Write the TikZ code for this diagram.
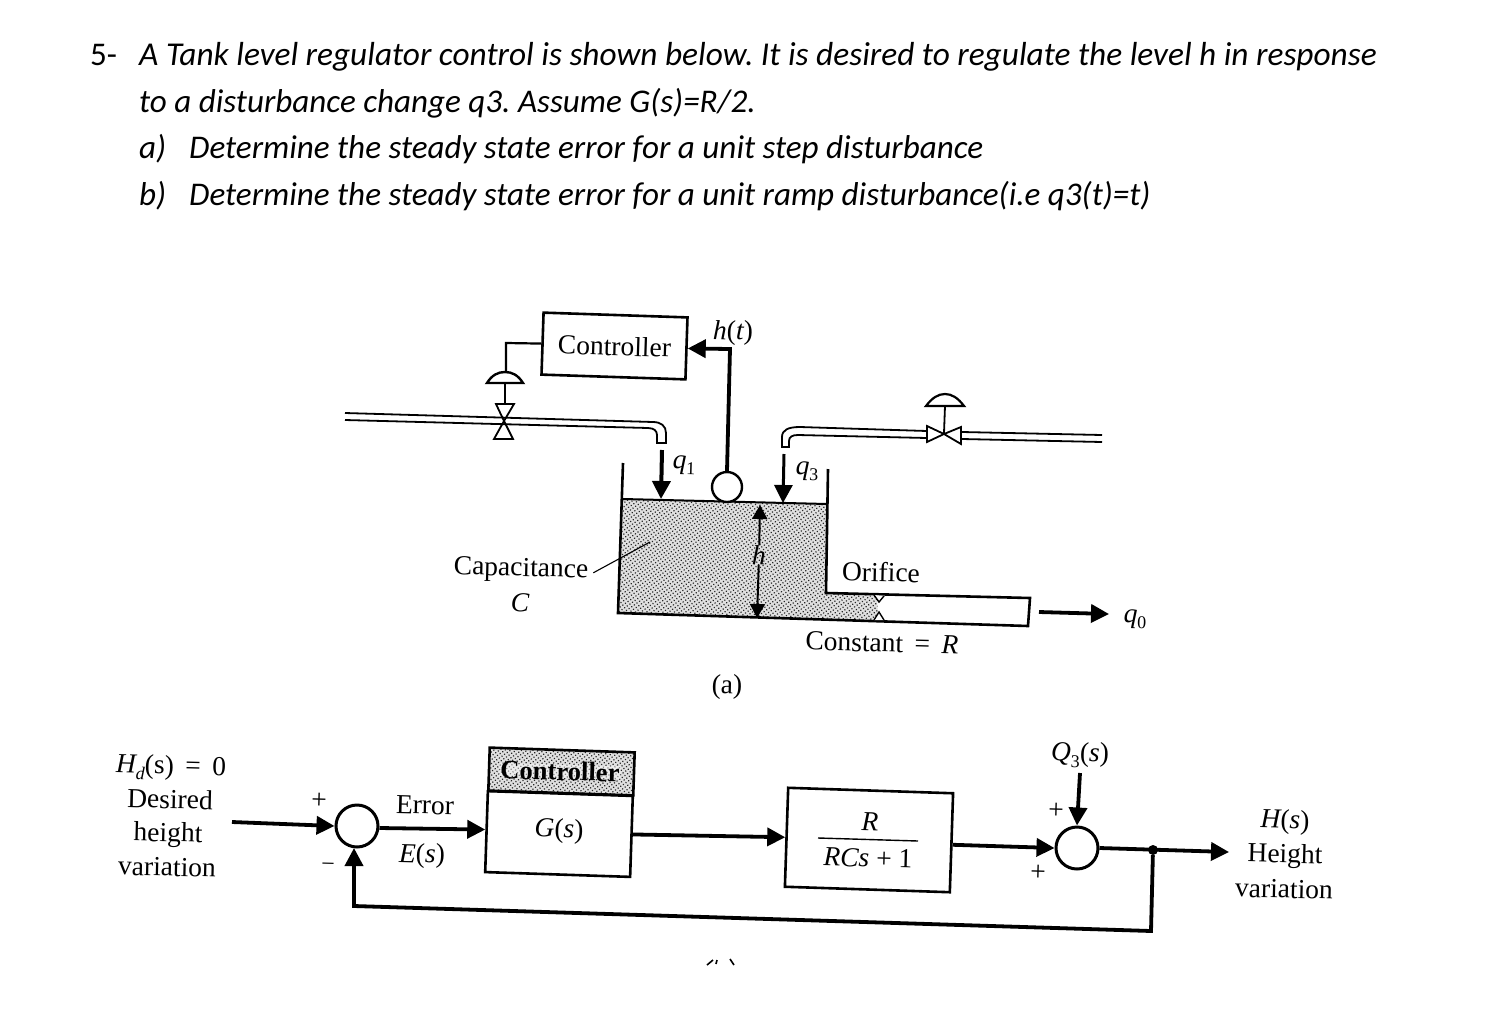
\documentclass[tikz,border=0pt]{standalone}
\usepackage{fontspec}
\setmainfont{Liberation Serif}
\newfontfamily\hdfont{Carlito}
\usetikzlibrary{arrows.meta,patterns.meta}
\newcommand{\sbs}[1]{\raisebox{-0.22em}{\fontsize{18}{20}\selectfont\upshape #1}}
\tikzset{
  x=1pt,y=-1pt,
  hd/.style={anchor=base west,inner sep=0pt,font=\hdfont\fontsize{33.1}{36}\selectfont\frenchspacing},
  lab/.style={inner sep=0pt,rotate=-1.5,align=center,font=\fontsize{27.5}{34}\selectfont},
  thick line/.style={line width=3.8pt,draw=black},
  wall/.style={line width=2.6pt,draw=black},
  pipe/.style={line width=1.8pt,draw=black},
  head/.style={-{Triangle[length=18pt,width=18pt]}},
  smallhead/.style={-{Triangle[length=14pt,width=15pt]}},
  blockbox/.style={draw=black,line width=2.6pt,rectangle,inner sep=0pt,rotate=-1.9,align=center,font=\fontsize{27.5}{34}\selectfont},
  sumj/.style={draw=black,line width=3pt,circle,minimum size=42pt,inner sep=0pt},
  dither/.style={preaction={fill=black!12},pattern={Dots[radius=0.85pt,distance=3.2pt,angle=35]},pattern color=black!85},
  jdot/.style={fill=black,circle,minimum size=10pt,inner sep=0pt},
}
\begin{document}
\begin{tikzpicture}
\useasboundingbox (0,0) rectangle (1505,1010);
\fill[white] (0,0) rectangle (1505,1010);
% --- question text
\node[hd] (q0) at (90,65) {5-};
\node[hd] (q1) at (139,65) {\fontsize{33.34}{36}\selectfont\itshape A Tank level regulator control is shown below. It is desired to regulate the level h in response};
\node[hd] (q2) at (139,112) {\itshape to a disturbance change q3. Assume G(s)=R/2.};
\node[hd] (qa) at (139,158) {\itshape a)};
\node[hd] (qat) at (189,158) {\itshape Determine the steady state error for a unit step disturbance};
\node[hd] (qb) at (139,205) {\itshape b)};
\node[hd] (qbt) at (189,205) {\itshape Determine the steady state error for a unit ramp disturbance(i.e q3(t)=t)};
% --- tank water
\path[dither] (623,499) -- (827,504) -- (826,593) -- (877,596) -- (878,620) -- (618,613) -- cycle;
% --- controller (a)
\node[blockbox,minimum width=144pt,minimum height=62pt] (ctrl) at (614.5,346) {Controller};
\coordinate (act) at (506,372);
\draw[line width=2.2pt] (ctrl.west) -- (506,343) -- (act);
% left pipe
\draw[pipe] (345,413) -- (653,422) .. controls (661,422) and (666,426) .. (666,433) -- (666,443) -- (657,443) -- (657,435) .. controls (657,431) and (654,428) .. (648,428) -- (345,420);
% left actuator
\draw[pipe,line width=2.4pt] (487,383) .. controls (492,375) and (498,372) .. (505,372) .. controls (512,372) and (518,375) .. (523,383) -- cycle;
\draw[line width=2.8pt] (505,384) -- (505,404);
\draw[pipe] (496,404) -- (514,404) -- (504,421) -- (513,439) -- (494,439) -- (504,421) -- cycle;
% right pipe
\draw[pipe] (1102,435) -- (962,432) (927,431) -- (800,427) .. controls (788,427) and (782,430) .. (782,437) -- (782,447) -- (789,447) -- (789,441) .. controls (789,437) and (792,435) .. (798,435) -- (927,438) (962,439) -- (1102,442);
% right actuator
\draw[pipe,line width=2.2pt] (926,406) .. controls (932,398) and (938,394) .. (945,394) .. controls (952,394) and (958,398) .. (964,406) -- cycle;
\draw[line width=1.8pt] (945,406) -- (944,433);
\draw[pipe,fill=white] (927,426) -- (944,434) -- (961,427) -- (961,444) -- (944,434) -- (927,442) -- cycle;
% tank walls
\draw[wall] (623,463) -- (618,613) -- (1028,626) -- (1030,598) -- (826,593) -- (828,469);
\draw[line width=2pt] (623,499) -- (827,504);
% orifice
\draw[line width=1.4pt,fill=white] (874,595) -- (879,602) -- (884,596);
\draw[line width=1.4pt,fill=white] (874,620) -- (879,612) -- (884,620);
% sensor
\node[draw=black,line width=2.4pt,circle,minimum size=30pt,inner sep=0pt,fill=white] (floatb) at (727,487) {};
\coordinate (senscorner) at (730,349);
\draw[thick line,head] (floatb.north) -- (senscorner) -- (ctrl.east);
% flows
\coordinate (q1s) at (662,450); \coordinate (q1e) at (661,499);
\draw[thick line,line width=4pt,head] (q1s) -- (q1e);
\coordinate (q3s) at (784,454); \coordinate (q3e) at (783,503);
\draw[thick line,line width=3pt,head] (q3s) -- (q3e);
\coordinate (q0s) at (1039,612); \coordinate (q0e) at (1109,614);
\draw[thick line,head] (q0s) -- (q0e);
% h dimension
\node[lab] (hlab) at (759,555) {\itshape h};
\coordinate (htop) at (760,505); \coordinate (hbot) at (757,618);
\draw[line width=2pt,smallhead] (hlab.north) -- (htop);
\draw[line width=2pt,smallhead] (hlab.south) -- (hbot);
% capacitance leader
\node[lab] (cap) at (521,570) {Capacitance};
\coordinate (capend) at (650,542);
\draw[line width=1.1pt] (cap.east) ++(5,1) -- (capend);
% labels (a)
\node[lab] (capC) at (520,603) {\itshape C};
\node[lab] (ht) at (733,333) {\itshape h\upshape(\itshape t\upshape)};
\node[lab] (q1l) at (684,465) {\itshape q\sbs{1}};
\node[lab] (q3l) at (807,471) {\itshape q\sbs{3}};
\node[lab] (q0l) at (1135,619) {\itshape q\sbs{0}};
\node[lab] (ori) at (881,572) {Orifice};
\node[lab] (con) at (882,643) {Constant\, =\, \itshape R};
\node[lab] (cap_a) at (727,687) {(a)};
% --- block diagram
\node[sumj] (s1) at (357,826) {};
\node[sumj] (s2) at (1077,848) {};
\node[blockbox,dither,minimum width=145pt,minimum height=43pt] (ghead) at (561.5,771.5) {};
\node[lab,fill=white,fill opacity=.45,text opacity=1,inner xsep=1pt,inner ysep=-3pt] (gheadt) at (560,771) {\bfseries\fontsize{26.6}{30}\selectfont Controller};
\node[blockbox,minimum width=145pt,minimum height=81pt] (gbody) at (559,834) {};
\node[lab] (gs) at (559,831) {\itshape G\upshape(\itshape s\upshape)};
\node[blockbox,minimum width=165pt,minimum height=99pt] (plant) at (869,840) {};
\node[lab] (Rn) at (870,822) {\itshape R};
\draw[line width=1.4pt] (818,838) -- (918,841);
\node[lab] (Rd) at (868,858) {\itshape RCs \upshape+ 1};
\coordinate (inp) at (232,822);
\draw[thick line,head] (inp) -- (s1.west);
\draw[thick line,head] ([yshift=-2pt]s1.east) -- ([yshift=2pt]gbody.west);
\draw[thick line,head] ([yshift=2pt]gbody.east) -- (plant.west);
\draw[thick line,head] ([yshift=-2pt]plant.east) -- (s2.west);
\coordinate (q3in) at (1080,773);
\draw[thick line,head] (q3in) -- (s2.north);
\coordinate (outp) at (1229,852);
\draw[thick line,head] (s2.east) -- (outp);
\node[jdot] (j) at (1153,850) {};
\coordinate (fb1) at (1151,931); \coordinate (fb2) at (354,906);
\coordinate (fb3) at (354,848);
\draw[thick line,head] (j) -- (fb1) -- (fb2) -- (fb3);
\node[lab] (hd1) at (171,768) {\itshape H\sbs{\itshape d}\upshape(s)\, =\, 0};
\node[lab] (hd2) at (170,799) {Desired};
\node[lab] (hd3) at (168,835) {height};
\node[lab] (hd4) at (167,867) {variation};
\node[lab] (pl1) at (319,801) {+};
\node[lab] (mn1) at (328,867) {\fontsize{24}{26}\selectfont −};
\node[lab] (err) at (425,805) {Error};
\node[lab] (es) at (422,856) {\itshape E\upshape(\itshape s\upshape)};
\node[lab] (pl2) at (1056,811) {+};
\node[lab] (pl3) at (1038,873) {+};
\node[lab] (q3s2) at (1080,755) {\itshape Q\sbs{3}\upshape(\itshape s\upshape)};
\node[lab] (hs1) at (1285,822) {\itshape H\upshape(\itshape s\upshape)};
\node[lab] (hs2) at (1285,856) {Height};
\node[lab] (hs3) at (1284,889) {variation};
% clipped remains at the lower edge
\draw[line width=1.6pt] (707,965) -- (713,960) (717,960) -- (716,964) (730,959) -- (734,965);
\end{tikzpicture}
\end{document}
